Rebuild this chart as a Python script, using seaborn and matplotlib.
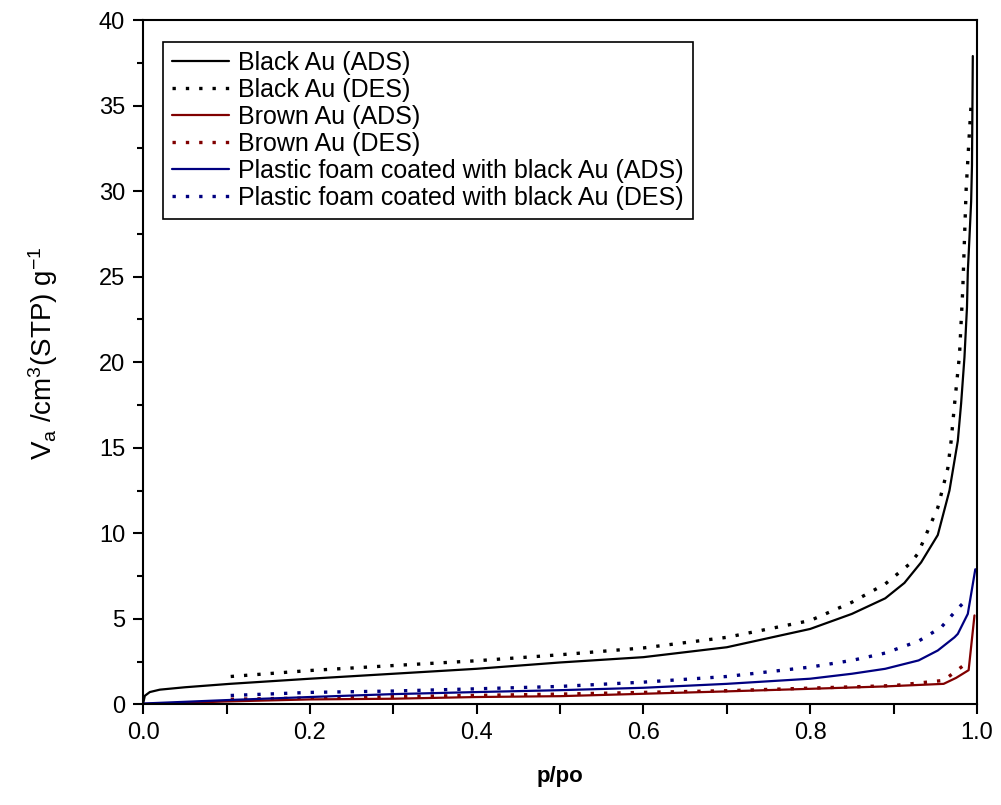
import matplotlib
matplotlib.use("Agg")
import matplotlib.pyplot as plt
import numpy as np
import pandas as pd
import seaborn as sns
from matplotlib.ticker import MultipleLocator

# isotherm data (p/po, V_a)
black_ads_p = [0.0, 0.002, 0.008, 0.02, 0.05, 0.104, 0.2, 0.3, 0.4, 0.5, 0.6, 0.7,
               0.8, 0.85, 0.89, 0.913, 0.933, 0.953, 0.967, 0.977, 0.981, 0.985,
               0.988, 0.989, 0.991, 0.993, 0.994, 0.995]
black_ads_v = [0.05, 0.5, 0.72, 0.86, 1.0, 1.2, 1.5, 1.79, 2.08, 2.45, 2.76, 3.34,
               4.41, 5.29, 6.2, 7.1, 8.3, 9.9, 12.5, 15.4, 17.6, 20.3,
               23.2, 25.3, 27.3, 29.4, 31.5, 37.9]

black_des_p = [0.105, 0.2, 0.3, 0.4, 0.5, 0.6, 0.7, 0.8, 0.85, 0.89, 0.919, 0.929,
               0.953, 0.965, 0.969, 0.973, 0.979, 0.983, 0.985, 0.987, 0.991, 0.993]
black_des_v = [1.63, 1.98, 2.27, 2.55, 2.9, 3.3, 3.92, 4.9, 5.97, 7.04, 8.2, 8.8,
               11.5, 13.8, 15.4, 17.5, 20.4, 24.3, 27.2, 30.1, 33.5, 35.1]

brown_ads_p = [0.0, 0.1, 0.2, 0.3, 0.4, 0.5, 0.6, 0.7, 0.8, 0.89, 0.96, 0.975, 0.99, 0.997]
brown_ads_v = [0.02, 0.17, 0.29, 0.33, 0.43, 0.48, 0.62, 0.76, 0.91, 1.05, 1.2, 1.55, 2.0, 5.2]

brown_des_p = [0.105, 0.3, 0.5, 0.7, 0.9, 0.96, 0.99]
brown_des_v = [0.3, 0.45, 0.6, 0.8, 1.1, 1.4, 2.5]

blue_ads_p = [0.0, 0.05, 0.1, 0.2, 0.3, 0.4, 0.5, 0.6, 0.7, 0.8, 0.85, 0.89, 0.93,
              0.953, 0.973, 0.977, 0.989, 0.998]
blue_ads_v = [0.05, 0.15, 0.25, 0.43, 0.6, 0.72, 0.83, 0.97, 1.2, 1.5, 1.79, 2.08, 2.57,
              3.15, 3.92, 4.12, 5.29, 7.9]

blue_des_p = [0.105, 0.2, 0.3, 0.4, 0.5, 0.6, 0.7, 0.8, 0.85, 0.89, 0.93, 0.957, 0.977, 0.989]
blue_des_v = [0.52, 0.7, 0.78, 0.91, 1.05, 1.3, 1.63, 2.18, 2.57, 3.0, 3.7, 4.5, 5.6, 6.2]

labels = [
    "Black Au (ADS)",
    "Black Au (DES)",
    "Brown Au (ADS)",
    "Brown Au (DES)",
    "Plastic foam coated with black Au (ADS)",
    "Plastic foam coated with black Au (DES)",
]

series = [
    (black_ads_p, black_ads_v, "#000000", "-"),
    (black_des_p, black_des_v, "#000000", ":"),
    (brown_ads_p, brown_ads_v, "#800000", "-"),
    (brown_des_p, brown_des_v, "#800000", ":"),
    (blue_ads_p, blue_ads_v, "#000080", "-"),
    (blue_des_p, blue_des_v, "#000080", ":"),
]

sns.set_style("ticks")
plt.rcParams["font.family"] = ["Liberation Sans", "DejaVu Sans"]
plt.rcParams["mathtext.fontset"] = "custom"
plt.rcParams["mathtext.rm"] = "Liberation Sans"
plt.rcParams["mathtext.it"] = "Liberation Sans"
for key in ["text.color", "axes.labelcolor", "xtick.color", "ytick.color"]:
    plt.rcParams[key] = "black"

fig = plt.figure(figsize=(10.01, 8.05), dpi=100)
ax = fig.add_axes([0.143, 0.125, 0.833, 0.85])

for (p, v, color, ls), label in zip(series, labels):
    df = pd.DataFrame({"p": p, "v": v})
    line_ls = "-" if ls == "-" else (0, (1, 3))
    lw = 1.6 if ls == "-" else 2.4
    sns.lineplot(data=df, x="p", y="v", ax=ax, color=color, sort=False,
                 estimator=None, linewidth=lw, linestyle=line_ls, label=label)

ax.set_xlim(0, 1.0)
ax.set_ylim(0, 40)
ax.xaxis.set_major_locator(MultipleLocator(0.2))
ax.xaxis.set_minor_locator(MultipleLocator(0.1))
ax.yaxis.set_major_locator(MultipleLocator(5))
ax.yaxis.set_minor_locator(MultipleLocator(2.5))
ax.set_xticklabels([f"{t:.1f}" for t in ax.get_xticks()])
ax.tick_params(axis="both", which="major", direction="out", length=7, width=1.5,
               labelsize=17, pad=6, top=False, right=False, colors="black")
ax.tick_params(axis="x", which="minor", direction="out", length=7, width=1.5, top=False)
ax.tick_params(axis="y", which="minor", direction="out", length=4, width=1.5, right=False)
for sp in ax.spines.values():
    sp.set_linewidth(1.5)
    sp.set_color("black")

ax.set_xlabel("p/po", fontsize=16, fontweight="bold", color="black")
ax.xaxis.set_label_coords(0.5, -0.09)
ax.set_ylabel(r"V$_a$ /cm$^3$(STP) g$^{-1}$", fontsize=20, color="black")
ax.yaxis.set_label_coords(-0.1, 0.513)

leg = ax.legend(loc="upper left", bbox_to_anchor=(0.024, 0.968), borderaxespad=0,
                fontsize=18, frameon=True, fancybox=False, handlelength=2.3,
                labelspacing=0.12, handletextpad=0.35, borderpad=0.35)
leg.get_frame().set_edgecolor("black")
leg.get_frame().set_linewidth(1.2)
leg.get_frame().set_alpha(1)
for txt in leg.get_texts():
    txt.set_color("black")

fig.savefig("out.png", dpi=100)
